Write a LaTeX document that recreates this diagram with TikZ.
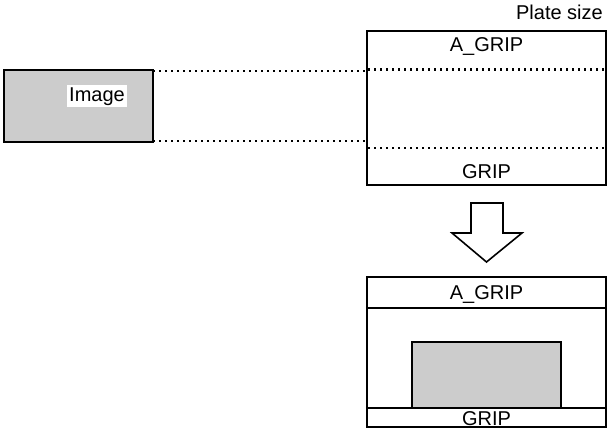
\documentclass[tikz,border=0pt]{standalone}
\usepackage{fontspec}
\setmainfont{Liberation Sans}
\begin{document}
\begin{tikzpicture}[x=1pt,y=-1pt,
  boxline/.style={draw=black,line width=2.2pt},
  graybox/.style={boxline,fill=black!20,inner sep=0pt},
  platebox/.style={boxline,fill=white,inner sep=0pt},
  dotline/.style={line width=2.6pt,dash pattern=on 2.2pt off 3.8pt},
  lbl/.style={font=\fontsize{20}{24}\selectfont,inner sep=1pt,anchor=base}]
\useasboundingbox (0,0) rectangle (607,436);
% image box
\node[graybox,minimum width=149pt,minimum height=72pt] (img) at (78.5,106) {};
\node[lbl,fill=white,inner sep=2pt] (imglbl) at (97,101) {Image};
% plate box
\node[platebox,minimum width=239pt,minimum height=154pt] (plate) at (486.5,108) {};
\node[lbl,anchor=base east] (platesize) at (604,20) {Plate size};
\node[lbl] (agrip1) at (486.5,52) {A\_GRIP};
\node[lbl] (grip1) at (486.5,178) {GRIP};
% dotted lines
\coordinate (d1a) at (153,71);
\coordinate (d1b) at (367,71);
\coordinate (d2a) at (153,141);
\coordinate (d2b) at (367,141);
\coordinate (d3a) at (368,69.5);
\coordinate (d3b) at (606,69.5);
\coordinate (d4a) at (368,148);
\coordinate (d4b) at (606,148);
\draw[dotline] (d1a) -- (d1b);
\draw[dotline] (d2a) -- (d2b);
\draw[dotline] (d3a) -- (d3b);
\draw[dotline] (d4a) -- (d4b);
% arrow
\draw[line width=1.6pt,fill=white,line join=miter] (471,203) -- (503,203) -- (503,233) -- (522,233) -- (486.5,262) -- (452,233) -- (471,233) -- cycle;
% result box
\node[platebox,minimum width=239pt,minimum height=150pt] (result) at (486.5,352) {};
\draw[boxline] (result.west |- 0,308) coordinate (ag) -- (result.east |- 0,308);
\draw[boxline] (result.west |- 0,408) coordinate (gr) -- (result.east |- 0,408);
\node[graybox,minimum width=149pt,minimum height=66pt] (placed) at (486.5,375) {};
\node[lbl] (agrip2) at (486.5,299) {A\_GRIP};
\node[lbl] (grip2) at (486.5,425) {GRIP};
\end{tikzpicture}
\end{document}
